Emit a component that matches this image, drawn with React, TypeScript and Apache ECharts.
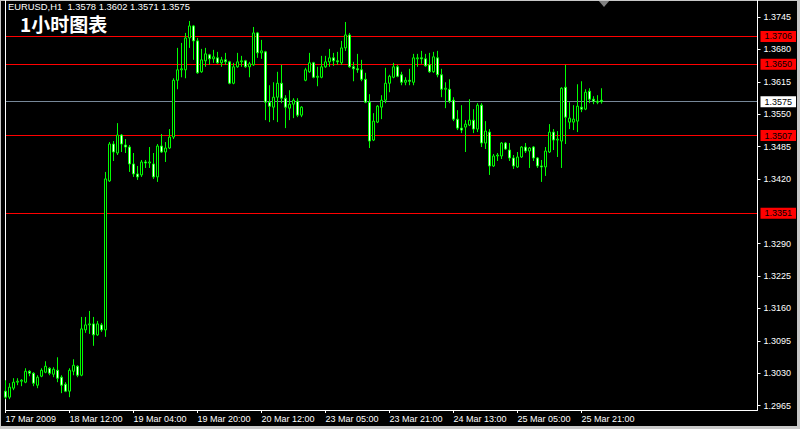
import React, { useEffect, useRef } from "react";
import * as echarts from "echarts";

// EURUSD hourly candles: open, high, low, close
const OPEN = [
  1.2994, 1.2982, 1.3000, 1.3012, 1.3014, 1.3012, 1.3034, 1.3030, 1.3006, 1.3024,
  1.3032, 1.3040, 1.3028, 1.3036, 1.3022, 1.3008, 1.2994, 1.3034, 1.3044, 1.3026,
  1.3117, 1.3127, 1.3129, 1.3107, 1.3127, 1.3117, 1.3416, 1.3490, 1.3472, 1.3508,
  1.3488, 1.3484, 1.3450, 1.3430, 1.3428, 1.3454, 1.3452, 1.3450, 1.3424, 1.3486,
  1.3474, 1.3482, 1.3504, 1.3618, 1.3639, 1.3639, 1.3703, 1.3727, 1.3697, 1.3635,
  1.3657, 1.3669, 1.3661, 1.3663, 1.3653, 1.3659, 1.3655, 1.3612, 1.3645, 1.3655,
  1.3657, 1.3645, 1.3649, 1.3713, 1.3673, 1.3675, 1.3574, 1.3564, 1.3584, 1.3612,
  1.3582, 1.3562, 1.3570, 1.3576, 1.3548, 1.3618, 1.3635, 1.3653, 1.3624, 1.3624,
  1.3645, 1.3655, 1.3663, 1.3657, 1.3653, 1.3683, 1.3709, 1.3645, 1.3641, 1.3639,
  1.3620, 1.3574, 1.3498, 1.3534, 1.3564, 1.3578, 1.3612, 1.3624, 1.3645, 1.3629,
  1.3614, 1.3618, 1.3614, 1.3661, 1.3663, 1.3661, 1.3649, 1.3635, 1.3663, 1.3629,
  1.3600, 1.3600, 1.3578, 1.3540, 1.3522, 1.3524, 1.3528, 1.3538, 1.3520, 1.3568,
  1.3492, 1.3514, 1.3446, 1.3466, 1.3466, 1.3492, 1.3478, 1.3462, 1.3444, 1.3464,
  1.3484, 1.3476, 1.3484, 1.3462, 1.3446, 1.3444, 1.3474, 1.3514, 1.3498, 1.3496,
  1.3604, 1.3534, 1.3534, 1.3536, 1.3564, 1.3560, 1.3596, 1.3580, 1.3576, 1.3578,
];
const HIGH = [
  1.3016, 1.3010, 1.3020, 1.3020, 1.3018, 1.3040, 1.3036, 1.3032, 1.3026, 1.3040,
  1.3054, 1.3042, 1.3042, 1.3062, 1.3026, 1.3012, 1.3040, 1.3058, 1.3046, 1.3143,
  1.3143, 1.3155, 1.3143, 1.3135, 1.3131, 1.3434, 1.3494, 1.3496, 1.3532, 1.3510,
  1.3500, 1.3488, 1.3472, 1.3446, 1.3458, 1.3458, 1.3484, 1.3472, 1.3490, 1.3510,
  1.3494, 1.3520, 1.3622, 1.3683, 1.3693, 1.3713, 1.3737, 1.3729, 1.3703, 1.3681,
  1.3683, 1.3671, 1.3679, 1.3675, 1.3665, 1.3673, 1.3657, 1.3653, 1.3673, 1.3667,
  1.3659, 1.3655, 1.3725, 1.3715, 1.3699, 1.3677, 1.3608, 1.3614, 1.3635, 1.3649,
  1.3588, 1.3598, 1.3582, 1.3582, 1.3566, 1.3643, 1.3673, 1.3655, 1.3645, 1.3667,
  1.3667, 1.3681, 1.3673, 1.3675, 1.3697, 1.3735, 1.3713, 1.3655, 1.3671, 1.3659,
  1.3633, 1.3590, 1.3552, 1.3568, 1.3588, 1.3643, 1.3629, 1.3653, 1.3649, 1.3635,
  1.3624, 1.3641, 1.3671, 1.3671, 1.3677, 1.3671, 1.3673, 1.3675, 1.3677, 1.3641,
  1.3614, 1.3620, 1.3584, 1.3558, 1.3568, 1.3538, 1.3580, 1.3560, 1.3572, 1.3572,
  1.3536, 1.3520, 1.3470, 1.3472, 1.3494, 1.3494, 1.3492, 1.3468, 1.3474, 1.3486,
  1.3492, 1.3484, 1.3486, 1.3464, 1.3458, 1.3484, 1.3530, 1.3520, 1.3516, 1.3604,
  1.3649, 1.3574, 1.3568, 1.3610, 1.3616, 1.3600, 1.3602, 1.3586, 1.3588, 1.3602,
];
const LOW = [
  1.2978, 1.2978, 1.2996, 1.3006, 1.3004, 1.3010, 1.3024, 1.3004, 1.3000, 1.3022,
  1.3030, 1.3026, 1.3022, 1.3012, 1.2990, 1.2992, 1.2982, 1.3026, 1.3022, 1.3024,
  1.3111, 1.3109, 1.3085, 1.3105, 1.3113, 1.3103, 1.3414, 1.3456, 1.3468, 1.3474,
  1.3472, 1.3434, 1.3424, 1.3418, 1.3424, 1.3442, 1.3442, 1.3420, 1.3414, 1.3472,
  1.3454, 1.3480, 1.3500, 1.3600, 1.3624, 1.3622, 1.3683, 1.3659, 1.3631, 1.3633,
  1.3645, 1.3649, 1.3653, 1.3651, 1.3645, 1.3649, 1.3610, 1.3610, 1.3643, 1.3645,
  1.3643, 1.3624, 1.3647, 1.3663, 1.3661, 1.3538, 1.3534, 1.3538, 1.3534, 1.3572,
  1.3522, 1.3538, 1.3542, 1.3544, 1.3544, 1.3616, 1.3633, 1.3622, 1.3606, 1.3622,
  1.3643, 1.3645, 1.3647, 1.3649, 1.3649, 1.3677, 1.3643, 1.3616, 1.3633, 1.3616,
  1.3572, 1.3482, 1.3496, 1.3532, 1.3540, 1.3572, 1.3594, 1.3622, 1.3624, 1.3608,
  1.3608, 1.3608, 1.3608, 1.3645, 1.3651, 1.3645, 1.3633, 1.3633, 1.3624, 1.3584,
  1.3562, 1.3572, 1.3536, 1.3518, 1.3512, 1.3474, 1.3526, 1.3512, 1.3514, 1.3484,
  1.3480, 1.3428, 1.3444, 1.3456, 1.3460, 1.3478, 1.3456, 1.3440, 1.3442, 1.3462,
  1.3472, 1.3442, 1.3456, 1.3442, 1.3414, 1.3426, 1.3472, 1.3478, 1.3464, 1.3442,
  1.3490, 1.3520, 1.3518, 1.3514, 1.3554, 1.3558, 1.3572, 1.3570, 1.3570, 1.3571,
];
const CLOSE = [
  1.2982, 1.3002, 1.3012, 1.3014, 1.3016, 1.3034, 1.3030, 1.3010, 1.3022, 1.3036,
  1.3044, 1.3030, 1.3038, 1.3020, 1.3006, 1.2994, 1.3036, 1.3046, 1.3026, 1.3119,
  1.3127, 1.3129, 1.3107, 1.3129, 1.3117, 1.3420, 1.3490, 1.3474, 1.3508, 1.3490,
  1.3484, 1.3450, 1.3430, 1.3424, 1.3454, 1.3452, 1.3454, 1.3424, 1.3486, 1.3474,
  1.3482, 1.3504, 1.3618, 1.3639, 1.3641, 1.3703, 1.3727, 1.3697, 1.3633, 1.3659,
  1.3671, 1.3661, 1.3665, 1.3653, 1.3659, 1.3655, 1.3612, 1.3645, 1.3655, 1.3657,
  1.3645, 1.3651, 1.3713, 1.3673, 1.3677, 1.3574, 1.3566, 1.3584, 1.3612, 1.3582,
  1.3564, 1.3570, 1.3578, 1.3548, 1.3564, 1.3639, 1.3653, 1.3624, 1.3626, 1.3645,
  1.3655, 1.3663, 1.3657, 1.3655, 1.3683, 1.3709, 1.3645, 1.3641, 1.3639, 1.3620,
  1.3574, 1.3496, 1.3536, 1.3566, 1.3578, 1.3612, 1.3626, 1.3645, 1.3626, 1.3614,
  1.3618, 1.3616, 1.3663, 1.3663, 1.3661, 1.3647, 1.3635, 1.3665, 1.3629, 1.3600,
  1.3602, 1.3576, 1.3540, 1.3522, 1.3518, 1.3530, 1.3538, 1.3520, 1.3568, 1.3492,
  1.3516, 1.3446, 1.3466, 1.3468, 1.3492, 1.3480, 1.3462, 1.3446, 1.3464, 1.3484,
  1.3476, 1.3482, 1.3462, 1.3446, 1.3444, 1.3476, 1.3514, 1.3498, 1.3500, 1.3602,
  1.3544, 1.3542, 1.3540, 1.3566, 1.3560, 1.3594, 1.3580, 1.3576, 1.3574, 1.3575,
];

// Time axis labels, one every 16 bars
const TIME_LABELS = [
  "17 Mar 2009", "18 Mar 12:00", "19 Mar 04:00", "19 Mar 20:00", "20 Mar 12:00",
  "23 Mar 05:00", "23 Mar 21:00", "24 Mar 13:00", "25 Mar 05:00", "25 Mar 21:00",
];
const LABEL_STEP = 16;
const VISIBLE_BARS = 189;

// Price scale labels
const PRICE_TICKS = [
  1.2965, 1.3030, 1.3095, 1.3160, 1.3225, 1.3290, 1.3420, 1.3485, 1.3550,
  1.3615, 1.3680, 1.3745,
];
const PRICE_MIN = 1.29562;
const PRICE_MAX = 1.37791;

// Horizontal levels
const LEVELS = [1.3706, 1.3650, 1.3507, 1.3351];
const LAST_PRICE = [1.3575];

const SYMBOL_LINE = "EURUSD,H1  1.3578 1.3602 1.3571 1.3575";
const TITLE = "1小时图表";

const FONT = "Liberation Sans, Arial, sans-serif";
const FRAME = "#c8c8c8";

export default function App() {
  const ref = useRef<HTMLDivElement>(null);

  useEffect(() => {
    if (!ref.current) return;
    const chart = echarts.init(ref.current, undefined, { renderer: "svg" });

    const categories: string[] = [];
    for (let i = 0; i < VISIBLE_BARS; i++) categories.push(String(i));
    const candles = OPEN.map((o, i) => [o, CLOSE[i], LOW[i], HIGH[i]]);
    const isLabelled = (index: number) =>
      index % LABEL_STEP === 0 && index / LABEL_STEP < TIME_LABELS.length;

    // A price axis that only draws horizontal level lines with boxed labels
    const levelAxis = (values: number[], lineColor: string, boxColor: string) => ({
      type: "value",
      position: "right",
      min: PRICE_MIN,
      max: PRICE_MAX,
      axisLine: { show: false },
      axisTick: { show: false, customValues: values },
      axisLabel: {
        customValues: values,
        formatter: (v: number) => v.toFixed(4),
        color: "#000000",
        backgroundColor: boxColor,
        fontFamily: FONT,
        fontSize: 9,
        lineHeight: 11,
        padding: [0, 4, 0, 4],
        margin: 3,
      },
      splitLine: { show: true, lineStyle: { color: lineColor, width: 1, type: "solid" } },
    });

    chart.setOption({
      animation: false,
      backgroundColor: "#000000",
      title: {
        text: TITLE,
        left: 15,
        top: 9,
        textStyle: {
          color: "#ffffff",
          fontSize: 19,
          fontWeight: "bold",
          fontFamily: "Noto Sans CJK SC",
        },
      },
      graphic: [
        {
          type: "text",
          left: 8,
          top: 2,
          style: {
            text: SYMBOL_LINE,
            fill: "#ffffff",
            font: `9.4px ${FONT}`,
          },
        },
        {
          type: "polygon",
          shape: { points: [[598, 0], [610, 0], [604, 7]] },
          style: { fill: "#808080" },
        },
        // window frame
        { type: "rect", shape: { x: 0, y: 0, width: 800, height: 1 }, style: { fill: FRAME } },
        { type: "rect", shape: { x: 0, y: 0, width: 1, height: 429 }, style: { fill: FRAME } },
        { type: "rect", shape: { x: 797, y: 0, width: 3, height: 429 }, style: { fill: FRAME } },
        { type: "rect", shape: { x: 0, y: 426, width: 800, height: 3 }, style: { fill: FRAME } },
      ],
      grid: { left: 5.5, right: 42.5, top: 0, bottom: 19, containLabel: false },
      xAxis: {
        type: "category",
        data: categories,
        boundaryGap: false,
        axisLine: { lineStyle: { color: "#ffffff", width: 1 } },
        axisTick: {
          show: true,
          length: 3,
          interval: (index: number) => isLabelled(index),
          lineStyle: { color: "#ffffff" },
        },
        axisLabel: {
          interval: (index: number) => isLabelled(index),
          formatter: (_v: string, index: number) =>
            isLabelled(index) ? TIME_LABELS[index / LABEL_STEP] : "",
          align: "left",
          margin: 4,
          color: "#ffffff",
          fontFamily: FONT,
          fontSize: 9,
        },
        splitLine: { show: false },
      },
      yAxis: [
        {
          type: "value",
          position: "right",
          min: PRICE_MIN,
          max: PRICE_MAX,
          axisLine: { show: true, lineStyle: { color: "#ffffff", width: 1 } },
          axisTick: {
            show: true,
            length: 3,
            customValues: PRICE_TICKS,
            lineStyle: { color: "#ffffff" },
          },
          axisLabel: {
            customValues: PRICE_TICKS,
            formatter: (v: number) => v.toFixed(4),
            color: "#ffffff",
            fontFamily: FONT,
            fontSize: 9,
            margin: 6,
          },
          splitLine: { show: false },
        },
        {
          type: "value",
          position: "left",
          min: PRICE_MIN,
          max: PRICE_MAX,
          axisLine: { show: true, lineStyle: { color: "#ffffff", width: 1 } },
          axisTick: { show: false },
          axisLabel: { show: false },
          splitLine: { show: false },
        },
        levelAxis(LEVELS, "#ff0000", "#ff0000"),
        levelAxis(LAST_PRICE, "#778899", "#ffffff"),
      ],
      series: [
        {
          type: "candlestick",
          data: candles,
          barWidth: 2,
          clip: true,
          itemStyle: {
            color: "#000000",
            color0: "#ffffff",
            borderColor: "#00ff00",
            borderColor0: "#00ff00",
            borderWidth: 1,
          },
        },
      ],
    });

    return () => chart.dispose();
  }, []);

  return (
    <div
      ref={ref}
      style={{ position: "fixed", left: 0, top: 0, width: 800, height: 429 }}
    />
  );
}
